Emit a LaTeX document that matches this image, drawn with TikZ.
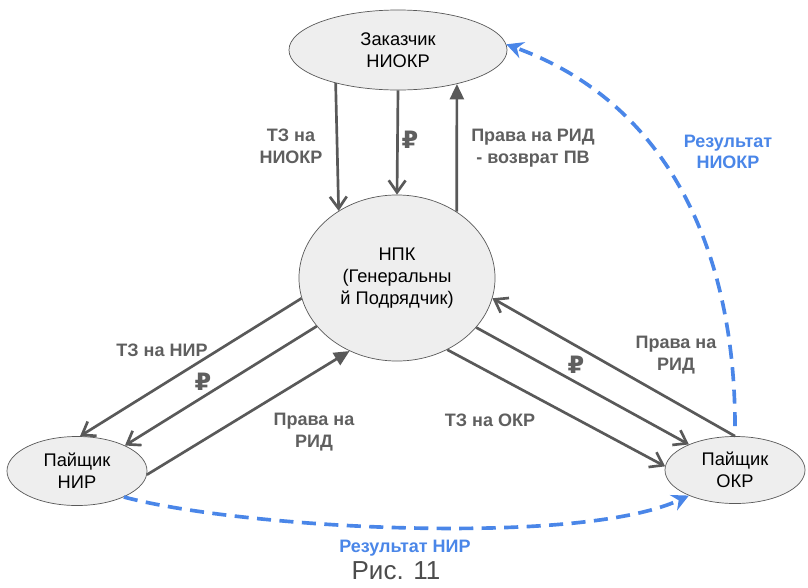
\documentclass[tikz,border=0pt]{standalone}
\usepackage{fontspec}
\setmainfont{Liberation Sans}
\newfontfamily\rubfont{DejaVu Sans}
\usetikzlibrary{shapes.geometric,arrows.meta}
\definecolor{arrgray}{HTML}{595959}
\definecolor{txtgray}{HTML}{5F5F5F}
\definecolor{resblue}{HTML}{4A86E8}
\definecolor{nodefill}{HTML}{EEEEEE}

\begin{document}
\begin{tikzpicture}[x=0.025cm, y=-0.025cm,
		party/.style={ellipse, draw=arrgray, line width=0.5pt, fill=nodefill, inner sep=0pt, align=center, font=\fontsize{13}{15.6}\selectfont},
		flow/.style={draw=arrgray, line width=1.9pt, -{Straight Barb[length=8.5pt,width=12pt]}},
		back/.style={draw=arrgray, line width=1.9pt, -{Triangle[length=11pt,width=10pt]}},
		result/.style={draw=resblue, line width=2.6pt, dash pattern=on 10pt off 6pt, -{Stealth[length=12pt,width=12pt,inset=4pt]}},
		lbl/.style={align=center, text=txtgray, font=\bfseries\fontsize{12.8}{15.4}\selectfont},
		rub/.style={text=txtgray, font=\rubfont\bfseries\fontsize{17}{17}\selectfont},
		reslbl/.style={align=center, text=resblue, font=\bfseries\fontsize{12.8}{15.4}\selectfont}]
	\useasboundingbox (0,0) rectangle (808,587);

	\node[party, minimum width=5.45cm, minimum height=2cm] (zak) at (398,50) {Заказчик\\НИОКР};
	\node[party, minimum width=4.9cm, minimum height=4.15cm] (npk) at (397,278) {НПК\\(Генеральны\\й Подрядчик)};
	\node[party, minimum width=3.5cm, minimum height=1.725cm] (nir) at (77,471) {Пайщик\\НИР};
	\node[party, minimum width=3.5cm, minimum height=1.675cm] (okr) at (735,470) {Пайщик\\ОКР};

	\draw[flow] (zak.208) -- (npk.131);
	\draw[flow] (zak.south) -- (npk.north);
	\draw[back] (npk.48) -- (zak.-30);

	\draw[flow] (npk.192) -- (nir.85);
	\draw[flow] (npk.211) -- (nir.28);
	\draw[back] (nir.-3) -- (npk.237);

	\draw[flow] (okr.north) -- (npk.-12);
	\draw[flow] (npk.-32) -- (okr.151);
	\draw[flow] (npk.-55) -- (okr.177);

	\draw[result] (nir.-29) to[out=-15, in=205, looseness=0.55] (okr.209);
	\draw[result, shorten <=0.25cm] (okr.north) to[out=90, in=-20] (zak.3);

	\node[lbl] (tzniokr) at (291,146) {ТЗ на\\НИОКР};
	\node[rub] (rubtop) at (410,140) {₽};
	\node[lbl] (ridtop) at (533,148) {Права на РИД\\- возврат ПВ};
	\node[reslbl] (resniokr) at (728,152) {Результат\\НИОКР};

	\node[lbl] (tznir) at (162,350) {ТЗ на НИР};
	\node[rub] (rubleft) at (203,382) {₽};
	\node[lbl] (ridleft) at (314,432) {Права на\\РИД};

	\node[lbl] (ridright) at (676,355) {Права на\\РИД};
	\node[rub] (rubright) at (576,365) {₽};
	\node[lbl] (tzokr) at (490,420) {ТЗ на ОКР};

	\node[reslbl] (resnir) at (405,548) {Результат НИР};
	\node[text=black!70, font=\fontsize{18.5}{18.5}\selectfont] (caption) at (396,571) {Рис. 11};
\end{tikzpicture}
\end{document}
